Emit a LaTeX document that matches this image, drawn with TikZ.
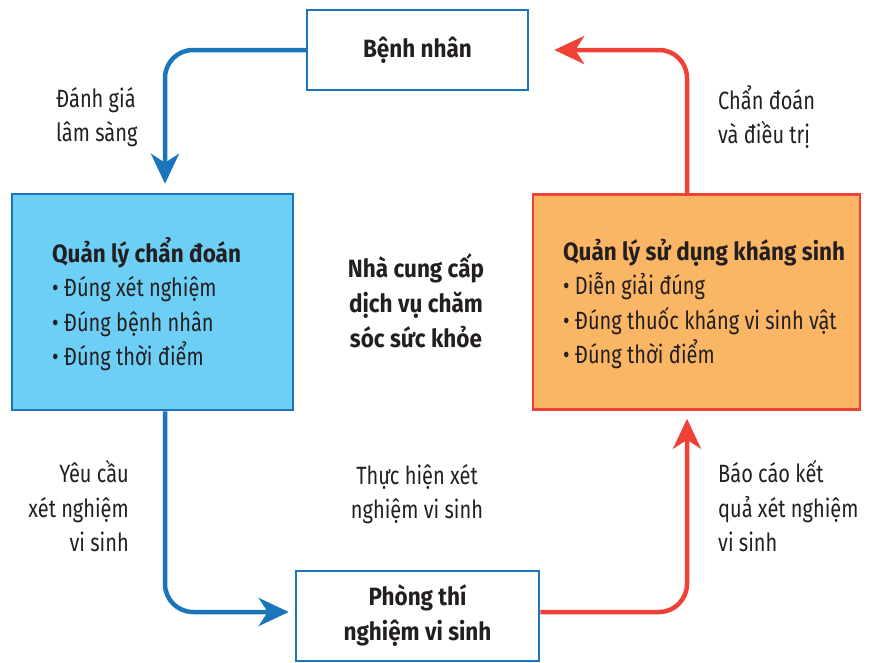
\documentclass[tikz,border=0pt]{standalone}
\usepackage{fontspec}
\setmainfont{Fira Sans}[FakeStretch=0.8,BoldFeatures={FakeStretch=0.9}]
\usetikzlibrary{arrows.meta}
\definecolor{bluefill}{HTML}{6DCFF6}
\definecolor{blueline}{HTML}{1B75BB}
\definecolor{orangefill}{HTML}{FBB665}
\definecolor{redline}{HTML}{EF4136}
\definecolor{ink}{HTML}{231F20}
\begin{document}
\begin{tikzpicture}[x=1pt,y=-1pt,
  every node/.style={text=ink,font=\fontsize{25}{34.5}\selectfont},
  whitebox/.style={draw=blueline,line width=2.5pt,fill=white,inner sep=0pt,font=\fontsize{25}{35}\selectfont\bfseries,align=center},
  bluebox/.style={draw=blueline,line width=2.5pt,fill=bluefill,inner sep=0pt,align=left},
  orangebox/.style={draw=redline,line width=2.5pt,fill=orangefill,inner sep=0pt,align=left},
  lbl/.style={inner sep=0pt},
  bluearrow/.style={draw=blueline,line width=4.5pt,rounded corners=28pt,-{Stealth[length=30pt,width=28pt,inset=9pt]}},
  redarrow/.style={draw=redline,line width=4.5pt,rounded corners=28pt,-{Stealth[length=30pt,width=28pt,inset=9pt]}}]
\useasboundingbox (0,0) rectangle (875,662);

\node[whitebox,minimum width=221pt,minimum height=80pt] (bn) at (417.5,50) {Bệnh nhân};
\node[bluebox,minimum width=281pt,minimum height=216pt] (qlcd) at (152.5,302) {};
\node[lbl,align=left,anchor=west] (qlcdt) at (52,304)
  {\textbf{Quản lý chẩn đoán}\\• Đúng xét nghiệm\\• Đúng bệnh nhân\\• Đúng thời điểm};
\node[orangebox,minimum width=327pt,minimum height=215pt] (qlks) at (696.5,302) {};
\node[lbl,align=left,anchor=west] (qlkst) at (563,304)
  {\textbf{Quản lý sử dụng kháng sinh}\\• Diễn giải đúng\\• Đúng thuốc kháng vi sinh vật\\• Đúng thời điểm};
\node[whitebox,minimum width=243pt,minimum height=90pt] (ptn) at (417.5,616)
  {Phòng thí\\nghiệm vi sinh};

\node[lbl,align=center,font=\fontsize{25}{35}\selectfont\bfseries] (ncc) at (416,301)
  {Nhà cung cấp\\dịch vụ chăm\\sóc sức khỏe};

\node[lbl,align=left,anchor=west] (l1) at (56,117) {Đánh giá\\lâm sàng};
\node[lbl,align=left,anchor=west] (l2) at (718,117) {Chẩn đoán\\và điều trị};
\node[lbl,align=right,anchor=east] (l3) at (129,506) {Yêu cầu\\xét nghiệm\\vi sinh};
\node[lbl,align=center] (l4) at (417,494) {Thực hiện xét\\nghiệm vi sinh};
\node[lbl,align=left,anchor=west] (l5) at (718,506) {Báo cáo kết\\quả xét nghiệm\\vi sinh};

\draw[bluearrow,shorten >=9pt] (bn.west) -| ([xshift=12.5pt]qlcd.north);
\draw[bluearrow,shorten >=6pt] ([xshift=12.5pt]qlcd.south) |- ([yshift=4pt]ptn.west);
\draw[redarrow,shorten >=8pt] ([yshift=4pt]ptn.east) -| ([xshift=-9.5pt]qlks.south);
\draw[redarrow,shorten >=25pt] ([xshift=-9.5pt]qlks.north) |- (bn.east);
\end{tikzpicture}
\end{document}
